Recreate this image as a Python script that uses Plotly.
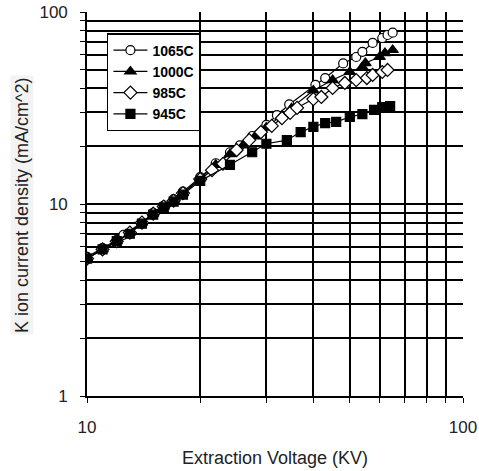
import plotly.graph_objects as go

# ---- data ----
v_1065 = [10, 11, 12, 12.5, 14, 15, 16, 17, 18, 20, 22, 24, 25.5, 27.5, 30, 32, 34.5, 40.5, 43, 48, 52, 54, 57.5, 61, 63, 65]
j_1065 = [5.3, 5.9, 6.5, 6.9, 8.0, 9.0, 9.8, 10.6, 11.6, 13.8, 16.3, 18.6, 20.2, 22.6, 25.8, 29.0, 33.0, 41.7, 45.3, 54.0, 58.3, 62.0, 69.0, 73.2, 75.9, 78.0]

v_1000 = [10, 11, 12, 13, 14, 15, 16, 17, 18, 20, 22, 24, 26, 28, 30, 33, 35, 40, 45, 50, 54, 55, 60, 62, 65]
j_1000 = [5.2, 5.8, 6.4, 7.1, 8.0, 8.9, 9.7, 10.5, 11.4, 13.6, 16.0, 18.2, 20.2, 22.5, 25.0, 28.8, 31.5, 39.0, 44.2, 48.7, 51.7, 54.2, 58.3, 61.1, 63.4]

v_985 = [10, 11, 12, 13, 14, 15, 16, 17, 18, 20, 21.5, 23, 25, 27, 29, 31, 33, 34.7, 36.2, 40, 42, 45, 48.5, 52, 55.5, 57.5, 61, 63]
j_985 = [5.2, 5.8, 6.4, 7.1, 8.0, 8.9, 9.7, 10.4, 11.4, 13.5, 15.0, 16.2, 19.1, 21.5, 23.7, 25.5, 28.0, 29.8, 31.7, 35.2, 36.1, 40.2, 42.7, 44.2, 45.3, 47.0, 48.7, 49.9]

v_945 = [10, 11, 12, 13, 14, 15, 16, 17, 18, 20, 24, 27.5, 30, 34, 37, 40, 43, 46, 50, 54, 58, 61, 64]
j_945 = [5.2, 5.8, 6.4, 7.0, 7.9, 8.8, 9.6, 10.3, 11.2, 13.2, 16.0, 18.6, 20.6, 21.5, 23.7, 25.2, 26.4, 26.8, 28.4, 29.4, 30.9, 32.0, 32.4]

series_names = ["1065C", "1000C", "985C", "945C"]

x_tickvals = [10, 20, 30, 40, 50, 60, 70, 80, 90, 100]
x_ticktext = ["10", "", "", "", "", "", "", "", "", "100"]
y_tickvals = [1, 2, 3, 4, 5, 6, 7, 8, 9, 10, 20, 30, 40, 50, 60, 70, 80, 90, 100]
y_ticktext = ["1", "", "", "", "", "", "", "", "", "10", "", "", "", "", "", "", "", "", "100"]

FONT = "Arial, Liberation Sans, sans-serif"
TXT = "#222"

styles = [
    dict(symbol="circle", color="white", size=9),
    dict(symbol="triangle-up", color="black", size=10),
    dict(symbol="diamond", color="white", size=10),
    dict(symbol="square", color="black", size=9),
]
data = [(v_1065, j_1065), (v_1000, j_1000), (v_985, j_985), (v_945, j_945)]

fig = go.Figure()
for name, (vx, jy), st in zip(series_names, data, styles):
    fig.add_trace(go.Scatter(
        x=vx, y=jy, name=name, mode="lines+markers",
        line=dict(color="black", width=1.2),
        marker=dict(symbol=st["symbol"], size=st["size"],
                    color=st["color"], line=dict(color="black", width=1.2)),
    ))

fig.update_layout(
    width=479, height=471,
    margin=dict(l=87, r=16, t=12, b=75),
    paper_bgcolor="white", plot_bgcolor="white",
    font=dict(family=FONT, size=17, color=TXT),
    showlegend=True,
    legend=dict(x=0.053, y=0.945, xanchor="left", yanchor="top",
                bgcolor="white", bordercolor="black", borderwidth=1.5,
                font=dict(family=FONT, size=14, color="black", weight="bold"),
                tracegroupgap=0, itemwidth=34),
)
fig.update_xaxes(
    type="log", range=[1, 2], automargin=False,
    tickmode="array", tickvals=x_tickvals, ticktext=x_ticktext,
    showgrid=True, gridcolor="black", gridwidth=1.6,
    showline=True, linecolor="black", linewidth=1.6,
    ticks="outside", ticklen=5, tickcolor="black", ticklabelstandoff=10,
    tickfont=dict(family=FONT, size=17, color=TXT),
    zeroline=False,
)
fig.update_yaxes(
    type="log", range=[0, 2], automargin=False,
    tickmode="array", tickvals=y_tickvals, ticktext=y_ticktext,
    showgrid=True, gridcolor="black", gridwidth=1.6,
    showline=True, linecolor="black", linewidth=1.6,
    ticks="outside", ticklen=5, tickcolor="black", ticklabelstandoff=9,
    tickfont=dict(family=FONT, size=17, color=TXT),
    zeroline=False,
)
fig.add_annotation(
    text="Extraction Voltage (KV)",
    xref="paper", yref="paper", x=0.5, y=(396 - 458) / 384, xanchor="center", yanchor="middle",
    showarrow=False, font=dict(family=FONT, size=18, color=TXT),
)
fig.add_annotation(
    text="K ion current density (mA/cm^2)", textangle=-90,
    xref="paper", yref="paper", x=(22 - 87) / 376, y=(396 - 205) / 384, xanchor="center", yanchor="middle",
    showarrow=False, bgcolor="#f3f3f3",
    font=dict(family=FONT, size=18, color=TXT),
)

fig.write_html(
    "out.html",
    config={"displayModeBar": False},
    post_script="document.body.style.margin='0';document.body.style.overflow='hidden';",
)
